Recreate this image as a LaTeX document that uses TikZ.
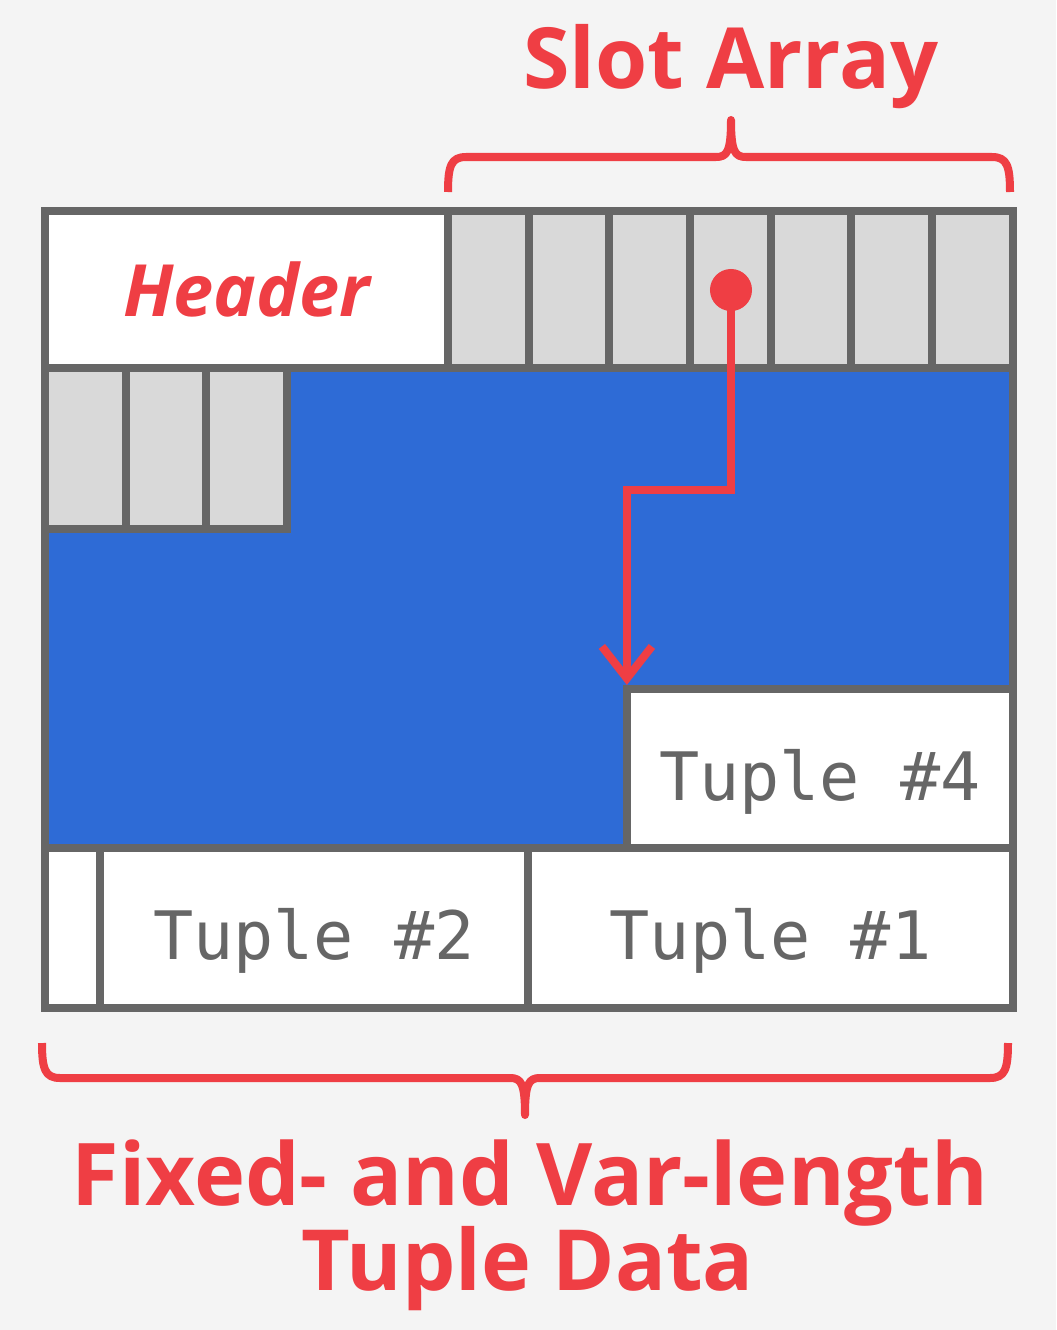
\documentclass[tikz,border=0pt]{standalone}
\usepackage{fontspec}
\setmainfont{Open Sans}
\newfontfamily\tuplefont{DejaVu Sans Mono}
\usetikzlibrary{arrows.meta,positioning}
\definecolor{dbred}{HTML}{EF3E44}
\definecolor{dbgray}{HTML}{666666}
\definecolor{slotgray}{HTML}{D9D9D9}
\definecolor{freeblue}{HTML}{2E6BD6}
\definecolor{bggray}{HTML}{F4F4F4}
\tikzset{
  cell/.style={draw=dbgray, line width=0.08cm, inner sep=0pt},
  slot/.style={cell, fill=slotgray, minimum width=0.807cm},
  tuple/.style={cell, fill=white, minimum height=1.6cm, text=dbgray,
    text height=0.62cm, text depth=0cm,
    font=\tuplefont\fontsize{19}{19}\selectfont},
  redtext/.style={text=dbred, inner sep=0pt},
  redbrace/.style={draw=dbred, line width=0.08cm, line join=round},
}
\begin{document}
\begin{tikzpicture}[x=0.01cm, y=-0.01cm]
  % fondo
  \fill[bggray] (0,0) rectangle (1056,1330);
  % spazio libero
  \fill[freeblue] (45,368) rectangle (1013,848);

  % header e slot array
  \node[cell, fill=white, minimum width=4.03cm, minimum height=1.57cm,
    text=dbred, font=\bfseries\itshape\fontsize{20.5}{20.5}\selectfont]
    (hdr) at (246.5,289.5) {\raisebox{-0.05cm}{Header}};
  \foreach \i in {0,...,6} {
    \node[slot, minimum height=1.57cm] (s\i) at ({448+80.7*\i+40.35},289.5) {};
  }
  \foreach \i in {0,1,2} {
    \node[slot, minimum height=1.61cm] (r\i) at ({45+80.7*\i+40.35},448.5) {};
  }

  % tuple
  \node[tuple, minimum width=3.86cm] (tup4) at (820,769) {Tuple \#4};
  \node[cell, fill=white, minimum width=0.55cm, minimum height=1.6cm] (gap) at (72.5,928) {};
  \node[tuple, minimum width=4.28cm] (tup2) at (314,928) {Tuple \#2};
  \node[tuple, minimum width=4.85cm] (tup1) at (770.5,928) {Tuple \#1};

  % bordo pagina
  \draw[dbgray, line width=0.08cm] (45,211) rectangle (1013,1008);

  % puntatore
  \node[circle, fill=dbred, minimum size=0.42cm, inner sep=0pt] (ptr) at (731,290) {};
  \draw[dbred, line width=0.08cm, -{Straight Barb[length=0.32cm, width=0.5cm]}]
    (ptr.center) -- (731,490) -| ([xshift=0.04cm]tup4.north west);

  % parentesi
  \draw[redbrace] (448,192) .. controls (448,166) and (451,157) .. (466,157)
    -- (716,157) .. controls (727,157) and (731,152) .. (731,120)
    .. controls (731,152) and (735,157) .. (746,157)
    -- (992,157) .. controls (1007,157) and (1010,166) .. (1010,192);
  \draw[redbrace] (42,1043) .. controls (42,1069) and (45,1078) .. (60,1078)
    -- (510,1078) .. controls (521,1078) and (525,1083) .. (525,1115)
    .. controls (525,1083) and (529,1078) .. (540,1078)
    -- (990,1078) .. controls (1005,1078) and (1008,1069) .. (1008,1043);

  % scritte
  \node[redtext, anchor=base, font=\bfseries\fontsize{24}{24}\selectfont]
    (slotlbl) at (731,88) {Slot Array};
  \node[redtext, anchor=base, font=\bfseries\fontsize{24.6}{24.6}\selectfont]
    (datalbl) at (530,1205) {Fixed- and Var-length};
  \node[redtext, anchor=base, font=\bfseries\fontsize{24}{24}\selectfont]
    (datalbl2) at (528,1290) {Tuple Data};
\end{tikzpicture}
\end{document}
